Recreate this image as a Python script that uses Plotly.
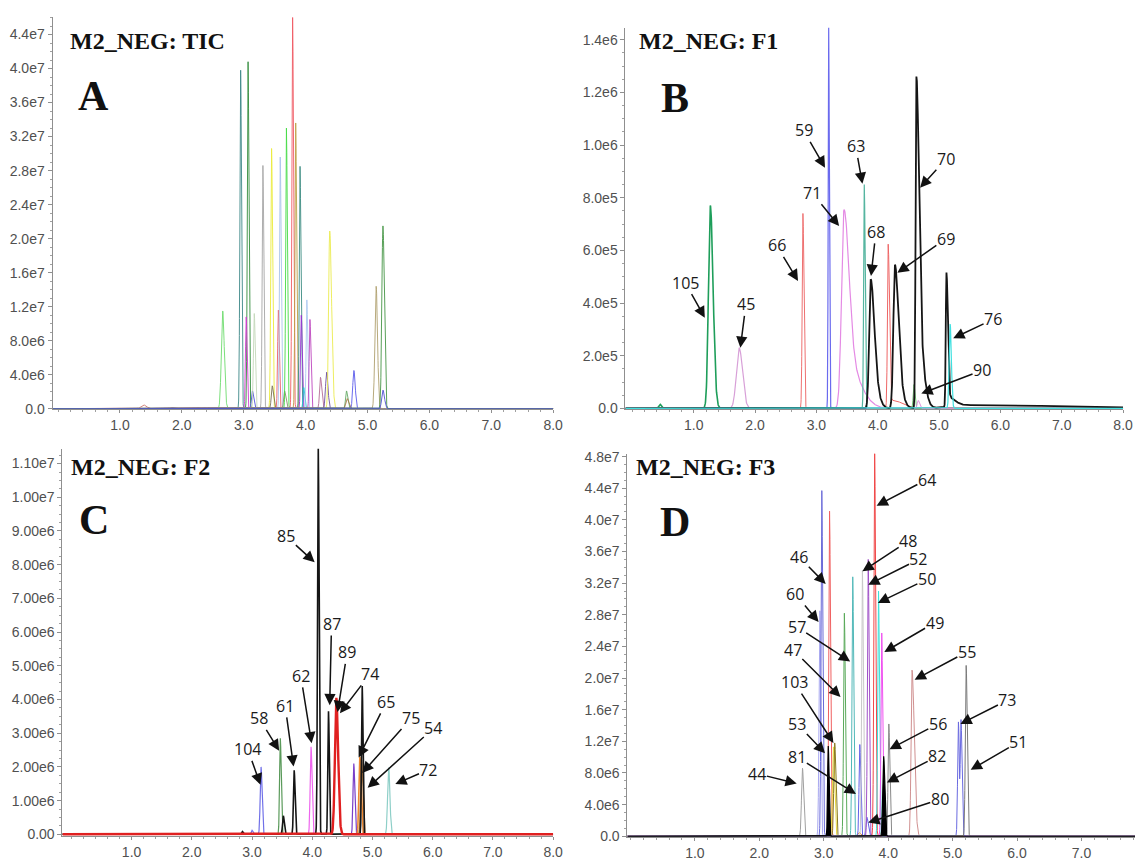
import numpy as np
import plotly.graph_objects as go

# ======================= DATA =======================
X_TICKS = [1, 2, 3, 4, 5, 6, 7, 8]
X_TICK_LABELS = ["1.0", "2.0", "3.0", "4.0", "5.0", "6.0", "7.0", "8.0"]

# ---- Panel A : M2_NEG TIC (one series per peak; heights in 1e6 counts) ----
A_series = list(range(31))
A_rt = [1.38, 1.84, 2.66, 2.95, 3.07, 3.04, 3.14, 3.17, 3.31, 3.45, 3.46, 3.56, 3.59, 3.66, 3.69, 3.79,
        3.84, 3.91, 3.93, 3.97, 4.02, 4.07, 4.24, 4.34, 4.39, 4.66, 4.67, 4.78, 5.14, 5.25, 5.25]
A_height = [0.45, 0.15, 11.5, 39.8, 40.8, 10.8, 2.1, 11.2, 28.6, 30.6, 2.7, 11.6, 29.6, 2.1, 33.0, 46.0,
            33.6, 28.5, 11.0, 2.5, 12.8, 10.5, 3.7, 4.3, 20.9, 2.1, 1.2, 4.5, 14.4, 21.5, 2.2]
A_wl = [0.04, 0.03, 0.022, 0.012, 0.012, 0.012, 0.015, 0.013, 0.012, 0.013, 0.015, 0.012, 0.012, 0.015, 0.012, 0.012,
        0.012, 0.012, 0.012, 0.012, 0.012, 0.012, 0.015, 0.018, 0.018, 0.015, 0.02, 0.018, 0.02, 0.018, 0.02]
A_wr = [0.05, 0.04, 0.026, 0.014, 0.014, 0.014, 0.02, 0.015, 0.014, 0.015, 0.02, 0.014, 0.014, 0.02, 0.014, 0.014,
        0.014, 0.014, 0.014, 0.015, 0.014, 0.015, 0.02, 0.022, 0.03, 0.02, 0.03, 0.022, 0.022, 0.022, 0.025]
A_Y_TICKS = [0, 4e6, 8e6, 1.2e7, 1.6e7, 2.0e7, 2.4e7, 2.8e7, 3.2e7, 3.6e7, 4.0e7, 4.4e7]
A_Y_TICK_LABELS = ["0.0", "4.0e6", "8.0e6", "1.2e7", "1.6e7", "2.0e7", "2.4e7", "2.8e7", "3.2e7", "3.6e7", "4.0e7", "4.4e7"]

# ---- Panel B : M2_NEG F1 (tailing peaks = core + tail entry at the same retention time) ----
B_series = [0, 0, 1, 2, 3, 4, 4, 5, 6, 6, 7, 8, 9, 9, 9, 9, 9, 9, 9, 9, 9, 10]
B_rt = [1.27, 0.45, 1.74, 2.78, 3.20, 3.45, 3.45, 3.78, 4.17, 4.25, 4.59, 4.66,
        3.885, 3.885, 4.28, 4.28, 4.63, 4.63, 5.12, 5.12, 5.5, 5.18]
B_height = [0.77, 0.015, 0.23, 0.74, 1.45, 0.555, 0.20, 0.85, 0.615, 0.03, 0.09, 0.03,
            0.32, 0.17, 0.395, 0.15, 0.88, 0.38, 0.47, 0.04, 0.012, 0.32]
B_wl = [0.03, 0.02, 0.045, 0.012, 0.008, 0.04, 0.04, 0.010, 0.012, 0.05, 0.012, 0.015,
        0.025, 0.025, 0.025, 0.025, 0.013, 0.013, 0.011, 0.011, 0.3, 0.016]
B_wr = [0.045, 0.02, 0.055, 0.016, 0.010, 0.08, 0.22, 0.014, 0.02, 0.15, 0.015, 0.02,
        0.055, 0.09, 0.055, 0.09, 0.04, 0.09, 0.022, 0.12, 1.6, 0.02]
B_Y_TICKS = [0, 2e5, 4e5, 6e5, 8e5, 1.0e6, 1.2e6, 1.4e6]
B_Y_TICK_LABELS = ["0.0", "2.0e5", "4.0e5", "6.0e5", "8.0e5", "1.0e6", "1.2e6", "1.4e6"]
B_labels = ["105", "45", "66", "59", "63", "71", "70", "68", "69", "76", "90"]
B_label_x = [0.86, 1.85, 2.35, 2.79, 3.64, 2.93, 5.11, 3.97, 5.11, 5.88, 5.70]
B_label_y = [0.477, 0.395, 0.619, 1.056, 0.995, 0.819, 0.946, 0.67, 0.644, 0.338, 0.144]
B_tip_x = [1.18, 1.76, 2.70, 3.14, 3.75, 3.37, 4.69, 3.89, 4.32, 5.23, 4.71]
B_tip_y = [0.344, 0.23, 0.484, 0.914, 0.853, 0.692, 0.838, 0.503, 0.515, 0.266, 0.056]

# ---- Panel C : M2_NEG F2 ----
C_series = [0, 0, 1, 2, 3, 4, 5, 6, 7, 7, 7, 7, 7, 7, 8]
C_rt = [3.00, 3.15, 3.47, 3.98, 4.69, 4.79, 4.82, 5.27, 2.84, 3.52, 3.70, 4.10, 4.27, 4.83, 4.40]
C_height = [0.12, 2.0, 2.85, 2.6, 2.1, 2.3, 2.2, 1.98, 0.08, 0.55, 1.9, 11.5, 3.65, 4.4, 4.05]
C_wl = [0.012, 0.014, 0.012, 0.014, 0.013, 0.015, 0.015, 0.018, 0.012, 0.013, 0.012, 0.012, 0.011, 0.011, 0.024]
C_wr = [0.015, 0.016, 0.014, 0.016, 0.015, 0.02, 0.02, 0.02, 0.012, 0.015, 0.014, 0.013, 0.012, 0.012, 0.03]
C_Y_TICKS = [0, 1e6, 2e6, 3e6, 4e6, 5e6, 6e6, 7e6, 8e6, 9e6, 1.0e7, 1.1e7]
C_Y_TICK_LABELS = ["0.00", "1.00e6", "2.00e6", "3.00e6", "4.00e6", "5.00e6", "6.00e6", "7.00e6",
                   "8.00e6", "9.00e6", "1.00e7", "1.10e7"]
C_labels = ["85", "87", "89", "74", "62", "61", "58", "104", "65", "75", "54", "72"]
C_label_x = [3.57, 4.32, 4.58, 4.96, 3.81, 3.55, 3.12, 2.93, 5.23, 5.64, 6.01, 5.93]
C_label_y = [8.84, 6.24, 5.40, 4.76, 4.70, 3.81, 3.44, 2.52, 3.93, 3.44, 3.14, 1.92]
C_tip_x = [4.04, 4.29, 4.42, 4.46, 3.99, 3.69, 3.45, 3.14, 4.77, 4.83, 4.92, 5.38]
C_tip_y = [8.07, 3.83, 3.63, 3.59, 2.70, 2.01, 2.48, 1.47, 2.28, 1.82, 1.38, 1.49]

# ---- Panel D : M2_NEG F3 ----
D_series = [0, 1, 2, 3, 4, 5, 6, 7, 8, 9, 9, 10, 11, 12, 13, 14, 15, 16, 17, 17, 18, 19, 19]
D_rt = [2.67, 2.94, 2.97, 3.09, 3.15, 3.17, 3.32, 3.45, 3.55, 3.56, 3.67, 3.60, 3.69, 3.79, 3.85, 3.90,
        4.01, 4.37, 5.09, 5.13, 5.21, 3.07, 3.93]
D_height = [8.6, 28.5, 43.7, 41.1, 11.3, 11.8, 28.2, 32.8, 0.5, 11.6, 2.4, 33.6, 35.0, 48.5, 31.0, 25.7,
            14.2, 21.0, 14.4, 14.7, 21.6, 11.4, 10.1]
D_wl = [0.015, 0.013, 0.012, 0.012, 0.015, 0.014, 0.012, 0.012, 0.02, 0.012, 0.015, 0.012, 0.012, 0.012, 0.012, 0.012,
        0.012, 0.015, 0.012, 0.012, 0.013, 0.01, 0.014]
D_wr = [0.017, 0.014, 0.014, 0.014, 0.018, 0.018, 0.014, 0.014, 0.02, 0.014, 0.02, 0.014, 0.014, 0.014, 0.014, 0.014,
        0.015, 0.035, 0.012, 0.015, 0.016, 0.012, 0.016]
D_Y_TICKS = [0, 4e6, 8e6, 1.2e7, 1.6e7, 2.0e7, 2.4e7, 2.8e7, 3.2e7, 3.6e7, 4.0e7, 4.4e7, 4.8e7]
D_Y_TICK_LABELS = ["0.0", "4.0e6", "8.0e6", "1.2e7", "1.6e7", "2.0e7", "2.4e7", "2.8e7", "3.2e7", "3.6e7",
                   "4.0e7", "4.4e7", "4.8e7"]
D_labels = ["64", "48", "52", "50", "49", "55", "73", "51", "56", "82", "80", "46", "60", "57", "47", "103",
            "53", "81", "44"]
D_label_x = [4.60, 4.31, 4.47, 4.60, 4.72, 5.22, 5.85, 6.02, 4.77, 4.76, 4.80, 2.62, 2.56, 2.58, 2.52, 2.54,
             2.59, 2.59, 1.97]
D_label_y = [45.1, 37.3, 35.0, 32.5, 27.0, 23.3, 17.2, 11.9, 14.2, 10.1, 4.65, 35.3, 30.6, 26.5, 23.6, 19.5,
             14.2, 10.0, 7.9]
D_tip_x = [3.82, 3.60, 3.69, 3.84, 3.94, 4.41, 5.12, 5.28, 4.02, 3.98, 3.69, 3.03, 2.92, 3.41, 3.26, 3.15,
           3.02, 3.50, 2.58]
D_tip_y = [41.8, 33.5, 31.8, 29.5, 23.3, 19.8, 14.2, 8.4, 11.0, 6.8, 1.73, 31.9, 27.1, 22.1, 17.6, 11.8,
           10.5, 5.35, 6.67]

PANEL_TITLES = ["M2_NEG: TIC", "M2_NEG: F1", "M2_NEG: F2", "M2_NEG: F3"]
PANEL_LETTERS = ["A", "B", "C", "D"]

# ======================= STYLE =======================
A_colors = ["rgba(205,120,110,0.9)", "rgba(110,90,140,0.9)", "rgba(110,220,110,0.9)", "rgba(60,135,135,0.9)",
            "rgba(50,140,60,0.9)", "rgba(210,60,210,0.9)", "rgba(80,80,220,0.9)", "rgba(195,215,185,0.9)",
            "rgba(165,165,165,0.9)", "rgba(235,235,60,0.9)", "rgba(120,110,80,0.9)", "rgba(235,95,105,0.9)",
            "rgba(170,195,235,0.9)", "rgba(140,140,110,0.9)", "rgba(70,220,70,0.9)", "rgba(240,90,100,0.9)",
            "rgba(190,160,70,0.9)", "rgba(60,140,130,0.9)", "rgba(150,50,210,0.9)", "rgba(40,200,210,0.9)",
            "rgba(170,200,240,0.9)", "rgba(190,70,190,0.9)", "rgba(180,110,150,0.9)", "rgba(110,80,160,0.9)",
            "rgba(235,235,80,0.9)", "rgba(100,170,100,0.9)", "rgba(170,120,70,0.9)", "rgba(90,90,235,0.9)",
            "rgba(175,160,110,0.9)", "rgba(70,150,70,0.9)", "rgba(80,80,210,0.9)"]
A_widths = [1.0] * 31

B_colors = ["#1e9e5a", "#d8a0d8", "#ee7070", "#6a6aee", "#e48ae4", "#55b5a0", "#ee6666", "#70c070",
            "#e090e0", "#151515", "#40e0e0"]
B_widths = [1.6, 1.2, 1.0, 1.2, 1.2, 1.2, 1.0, 1.0, 1.0, 1.8, 1.2]

C_colors = ["#7070e8", "#5a9a5a", "#ee66ee", "#7a3ec8", "#ee8830", "#9a6a3a", "#8ecfc8", "#151515", "#e02020"]
C_widths = [1.2, 1.2, 1.2, 1.2, 1.6, 1.4, 1.2, 1.6, 2.4]

D_colors = ["#a0a0a0", "#a8a8f0", "#6a6ad8", "#f06060", "#e8d840", "#8a7a20", "#5aaa5a", "#50b8b8",
            "#f09030", "#6060e8", "#c8c8c8", "#a050c8", "#f04848", "#40e0d8", "#f050f0", "#888888",
            "#d09090", "#6a6ae0", "#7a7a7a", "#000000"]
D_widths = [1.0] * 19 + [1.2]
D_fill = [False] * 19 + [True]

W, H = 1145, 863
# panel pixel boxes: (left, right, top, bottom), x range, y range
PANELS = {
    "A": dict(box=(53, 558, 12, 410), xr=(-0.09, 8.0), yr=(-0.06e6, 46.08e6)),
    "B": dict(box=(631, 1133, 23, 410), xr=(-0.113, 8.0), yr=(-0.0037e6, 1.4457e6)),
    "C": dict(box=(63, 558, 450, 843), xr=(-0.148, 8.0), yr=(-0.0585e6, 11.44e6)),
    "D": dict(box=(633, 1145, 455, 844), xr=(-0.046, 7.83), yr=(-0.125e6, 48.37e6)),
}


def profile(rts, hs, wls, wrs, xmin, xmax):
    pts = [np.array([xmin, xmax])]
    for rt, wl, wr in zip(rts, wls, wrs):
        step = min(wl, wr) / 8.0
        pts.append(np.arange(rt - 6 * wl, rt + 6 * wr + step, step))
        pts.append(np.array([rt]))
    x = np.unique(np.clip(np.concatenate(pts), xmin, xmax))
    y = np.zeros_like(x)
    for rt, h, wl, wr in zip(rts, hs, wls, wrs):
        s = np.where(x < rt, wl, wr)
        y += h * 1e6 * np.exp(-0.5 * ((x - rt) / s) ** 2)
    return x, y


fig = go.Figure()

panel_data = [
    ("A", "x", "y", A_series, A_rt, A_height, A_wl, A_wr, A_colors, A_widths, None),
    ("B", "x2", "y2", B_series, B_rt, B_height, B_wl, B_wr, B_colors, B_widths, None),
    ("C", "x3", "y3", C_series, C_rt, C_height, C_wl, C_wr, C_colors, C_widths, None),
    ("D", "x4", "y4", D_series, D_rt, D_height, D_wl, D_wr, D_colors, D_widths, D_fill),
]

for key, xa, ya, ser, rt, hh, wl, wr, cols, wids, fills in panel_data:
    xmin, xmax = PANELS[key]["xr"]
    for s in sorted(set(ser)):
        idx = [i for i, v in enumerate(ser) if v == s]
        x, y = profile([rt[i] for i in idx], [hh[i] for i in idx], [wl[i] for i in idx],
                       [wr[i] for i in idx], xmin, xmax)
        tr = dict(x=x, y=y, mode="lines", line=dict(color=cols[s], width=wids[s]),
                  xaxis=xa, yaxis=ya, showlegend=False, hoverinfo="skip")
        if fills is not None and fills[s]:
            tr["fill"] = "tozeroy"
            tr["fillcolor"] = cols[s]
        fig.add_trace(go.Scatter(**tr))

tick_font = dict(family="Liberation Sans, Arial, sans-serif", size=14, color="#505050")
axis_color = "#8f8f8f"


def x_axis(key, anchor):
    l, r, t, b = PANELS[key]["box"]
    return dict(domain=[l / W, r / W], range=list(PANELS[key]["xr"]), anchor=anchor,
                showline=True, linecolor=axis_color, linewidth=1, showgrid=False, zeroline=False,
                tickmode="array", tickvals=X_TICKS, ticktext=X_TICK_LABELS,
                ticks="outside", ticklen=3, tickcolor=axis_color, tickfont=tick_font,
                minor=dict(tickmode="linear", tick0=0, dtick=0.2, ticks="outside", ticklen=2,
                           tickcolor="#a0a0a0", showgrid=False))


def y_axis(key, anchor, ticks, labels, minor_dtick):
    l, r, t, b = PANELS[key]["box"]
    return dict(domain=[1 - b / H, 1 - t / H], range=list(PANELS[key]["yr"]), anchor=anchor,
                showline=True, linecolor=axis_color, linewidth=1, showgrid=False, zeroline=False,
                tickmode="array", tickvals=ticks, ticktext=labels,
                ticks="outside", ticklen=4, tickcolor=axis_color, tickfont=tick_font,
                minor=dict(tickmode="linear", tick0=0, dtick=minor_dtick, ticks="outside", ticklen=2,
                           tickcolor="#a0a0a0", showgrid=False))


annotations = []
label_font = dict(family="Open Sans, Liberation Sans, sans-serif", size=16, color="#1a1a1a")
for xa, ya, labs, lx, ly, tx, ty in [
    ("x2", "y2", B_labels, B_label_x, B_label_y, B_tip_x, B_tip_y),
    ("x3", "y3", C_labels, C_label_x, C_label_y, C_tip_x, C_tip_y),
    ("x4", "y4", D_labels, D_label_x, D_label_y, D_tip_x, D_tip_y),
]:
    for t_, a, b, c, d in zip(labs, lx, ly, tx, ty):
        annotations.append(dict(text=t_, x=c, y=d * 1e6, ax=a, ay=b * 1e6, xref=xa, yref=ya,
                                axref=xa, ayref=ya, showarrow=True, arrowhead=2, arrowsize=1.5,
                                arrowwidth=1.5, arrowcolor="#111111", standoff=0, borderpad=0,
                                font=label_font))

title_pos = [(69, 37), (643, 37), (70, 469), (640, 469)]
letter_pos = [(94, 92), (681, 94), (95, 522), (681, 524)]
for txt, (px, py) in zip(PANEL_TITLES, title_pos):
    annotations.append(dict(text="<b>" + txt + "</b>", x=px / W, y=1 - py / H, xref="paper", yref="paper",
                            xanchor="left", yanchor="middle", showarrow=False,
                            font=dict(family="Liberation Serif, Times New Roman, serif", size=24, color="#111")))
for txt, (px, py) in zip(PANEL_LETTERS, letter_pos):
    annotations.append(dict(text="<b>" + txt + "</b>", x=px / W, y=1 - py / H, xref="paper", yref="paper",
                            xanchor="center", yanchor="middle", showarrow=False,
                            font=dict(family="Liberation Serif, Times New Roman, serif", size=42, color="#111")))

fig.update_layout(
    width=W, height=H, margin=dict(l=0, r=0, t=0, b=0),
    paper_bgcolor="white", plot_bgcolor="white", hovermode=False,
    xaxis=x_axis("A", "y"), yaxis=y_axis("A", "x", A_Y_TICKS, A_Y_TICK_LABELS, 1e6),
    xaxis2=x_axis("B", "y2"), yaxis2=y_axis("B", "x2", B_Y_TICKS, B_Y_TICK_LABELS, 5e4),
    xaxis3=x_axis("C", "y3"), yaxis3=y_axis("C", "x3", C_Y_TICKS, C_Y_TICK_LABELS, 2.5e5),
    xaxis4=x_axis("D", "y4"), yaxis4=y_axis("D", "x4", D_Y_TICKS, D_Y_TICK_LABELS, 1e6),
    annotations=annotations,
)

fig.write_html("out.html", config={"displayModeBar": False, "staticPlot": True},
               post_script="document.body.style.margin='0';document.body.style.overflow='hidden';")
